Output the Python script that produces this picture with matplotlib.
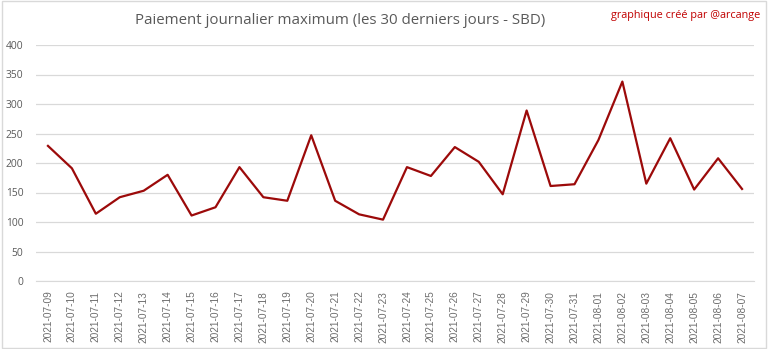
import matplotlib
matplotlib.use("Agg")
import matplotlib.pyplot as plt
from matplotlib.patches import Rectangle

# daily maximum payout, SBD
dates = ["2021-07-09", "2021-07-10", "2021-07-11", "2021-07-12", "2021-07-13",
         "2021-07-14", "2021-07-15", "2021-07-16", "2021-07-17", "2021-07-18",
         "2021-07-19", "2021-07-20", "2021-07-21", "2021-07-22", "2021-07-23",
         "2021-07-24", "2021-07-25", "2021-07-26", "2021-07-27", "2021-07-28",
         "2021-07-29", "2021-07-30", "2021-07-31", "2021-08-01", "2021-08-02",
         "2021-08-03", "2021-08-04", "2021-08-05", "2021-08-06", "2021-08-07"]
paiement = [229, 191, 114, 142, 153, 180, 111, 125, 193, 142,
            136, 247, 136, 113, 104, 193, 178, 227, 202, 147,
            289, 161, 164, 239, 338, 165, 242, 155, 208, 156]
yticks = [0, 50, 100, 150, 200, 250, 300, 350, 400]

plt.rcParams['font.family'] = ['Open Sans', 'DejaVu Sans']

fig = plt.figure(figsize=(7.68, 3.49), dpi=100)
ax = fig.add_axes([36/768, 1-281/349, 718/768, 236/349])

x = list(range(len(dates)))
ax.plot(x, paiement, color="#9C0A0A", linewidth=1.6)

ax.set_xlim(-0.5, len(dates)-0.5)
ax.set_ylim(0, 400)
ax.set_yticks(yticks)
ax.set_xticks(x)
ax.set_xticklabels(dates, rotation=90, fontsize=7.3, color="#6E6E6E",
                   family=["Liberation Sans", "DejaVu Sans"])
ax.tick_params(axis="y", labelsize=7.4, labelcolor="#595959", length=0, pad=9)
ax.tick_params(axis="x", length=0, pad=7)
ax.grid(axis="y", color="#D9D9D9", linewidth=0.9)
ax.set_axisbelow(True)
for s in ["top", "right", "left"]:
    ax.spines[s].set_visible(False)
ax.spines["bottom"].set_color("#D9D9D9")

fig.text(0.443, 0.94, "Paiement journalier maximum (les 30 derniers jours - SBD)",
         ha="center", va="center", fontsize=10.8, color="#595959")
fig.text(0.99, 0.955, "graphique créé par @arcange", ha="right", va="center",
         fontsize=7.8, color="#C00000")

fig.patches.append(Rectangle((0.002, 0.003), 0.995, 0.993, transform=fig.transFigure,
                             fill=False, edgecolor="#D9D9D9", linewidth=1))

plt.savefig("out.png", dpi=100)
